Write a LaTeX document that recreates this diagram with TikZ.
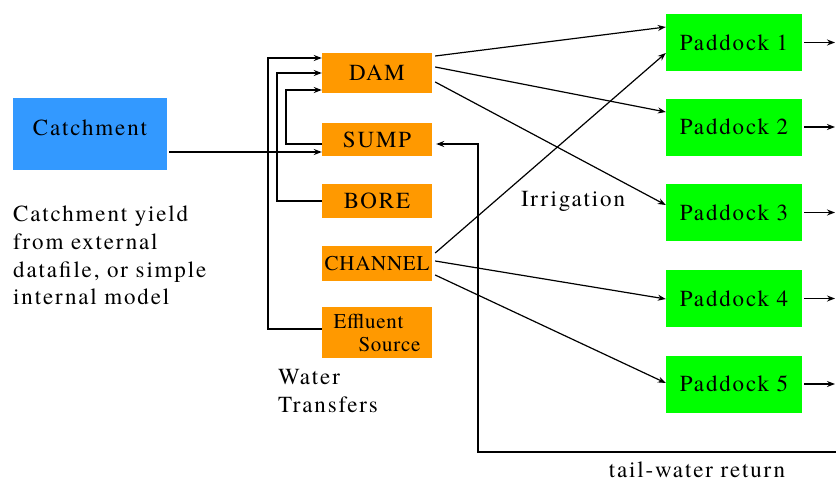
\documentclass[tikz,border=0pt]{standalone}
\usepackage{fontspec}
\setmainfont{texgyretermes}[Extension=.otf, UprightFont=*-regular, BoldFont=*-bold, LetterSpace=8]
\newfontfamily\tightfont{texgyretermes}[Extension=.otf, UprightFont=*-regular, LetterSpace=3.5]
\usetikzlibrary{arrows.meta,calc}
\definecolor{catchblue}{HTML}{3399FF}
\definecolor{storeorange}{HTML}{FF9900}
\definecolor{paddockgreen}{HTML}{00FF00}
\newcommand{\lblfont}{\fontsize{23}{27.6}\selectfont}
\newcommand{\smallfont}{\fontsize{21}{23}\tightfont}
\tikzset{
  box/.style={rectangle, inner sep=0pt, draw=none, font=\lblfont},
  catchbox/.style={box, fill=catchblue, minimum width=154pt, minimum height=72pt},
  store/.style={box, fill=storeorange, minimum width=110pt},
  paddock/.style={box, fill=paddockgreen, minimum width=136pt, minimum height=57pt},
  transfer/.style={line width=1.8pt, -{Stealth[length=8pt,width=6pt]}},
  flow/.style={line width=1.2pt, -{Stealth[length=8pt,width=6pt]}},
  note/.style={inner sep=0pt, font=\lblfont, align=left}
}
\begin{document}
\begin{tikzpicture}[x=1pt, y=-1pt]
  \useasboundingbox (0,0) rectangle (836,482);

  % source and storages
  \node[catchbox, text depth=12pt] (catch) at (90,134) {Catchment};
  \node[store, minimum height=40pt] (dam) at (377,73) {DAM};
  \node[store, minimum height=33pt] (sump) at (377,139.5) {SUMP};
  \node[store, minimum height=34pt] (bore) at (377,201) {BORE};
  \node[store, minimum height=35pt, font=\smallfont] (channel) at (377,263.5) {CHANNEL};
  \node[store, minimum height=51pt, font=\smallfont, align=left] (eff) at (377,332.5) {Effluent\\\hspace{25pt}Source};

  % paddocks
  \node[paddock] (p1) at (734,42.5) {Paddock 1};
  \node[paddock] (p2) at (734,127) {Paddock 2};
  \node[paddock] (p3) at (734,212.5) {Paddock 3};
  \node[paddock] (p4) at (734,298.5) {Paddock 4};
  \node[paddock] (p5) at (734,384) {Paddock 5};

  % free ends at the right margin
  \coordinate (o1) at (835,42.5);
  \coordinate (o2) at (835,127);
  \coordinate (o3) at (835,212.5);
  \coordinate (o4) at (835,298.5);
  \coordinate (o5) at (835,384);
  \coordinate (tw) at (836,452);

  % labels
  \node[note, anchor=north west] (yield) at (13,206)
    {Catchment yield\\from external\\datafile, or simple\\internal model};
  \node[note] (irr) at (573,201) {Irrigation};
  \node[note, anchor=north west] (wt) at (278,369) {Water\\Transfers};
  \node[note] (twr) at (697,470) {tail-water return};

  % water transfers into the dam and sump
  \draw[transfer] ($(catch.east)+(2,18)$) -- ($(sump.west)+(0,12.5)$);
  \draw[transfer] ($(eff.west)+(0,-3.5)$) -- ++(-54,0) |- ($(dam.west)+(0,-15)$);
  \draw[transfer] (bore.west) -- ++(-45,0) |- (dam.west);
  \draw[transfer] ($(sump.west)+(0,4.5)$) -- ++(-36,0) |- ($(dam.west)+(0,17)$);
  \draw[transfer] (tw) -| ($(sump.east)+(46,4.5)$) -- ($(sump.east)+(4,4.5)$);

  % irrigation
  \draw[flow] ($(dam.east)+(3,-17)$) -- ($(p1.west)+(0,-15.5)$);
  \draw[flow] ($(dam.east)+(3,-6)$) -- ($(p2.west)+(0,-15)$);
  \draw[flow] ($(dam.east)+(3,9)$) -- ($(p3.west)+(0,-7.5)$);
  \draw[flow] ($(channel.east)+(3,-10.5)$) -- ($(p1.west)+(0,10.5)$);
  \draw[flow] ($(channel.east)+(3,-2.5)$) -- ($(p4.west)+(0,0.5)$);
  \draw[flow] ($(channel.east)+(3,11.5)$) -- ($(p5.west)+(0,-1)$);

  % paddock outflows
  \draw[transfer] ($(p1.east)+(2,0)$) -- (o1);
  \draw[transfer] ($(p2.east)+(2,0)$) -- (o2);
  \draw[transfer] ($(p3.east)+(2,0)$) -- (o3);
  \draw[transfer] ($(p4.east)+(2,0)$) -- (o4);
  \draw[transfer] ($(p5.east)+(2,0)$) -- (o5);
\end{tikzpicture}
\end{document}
